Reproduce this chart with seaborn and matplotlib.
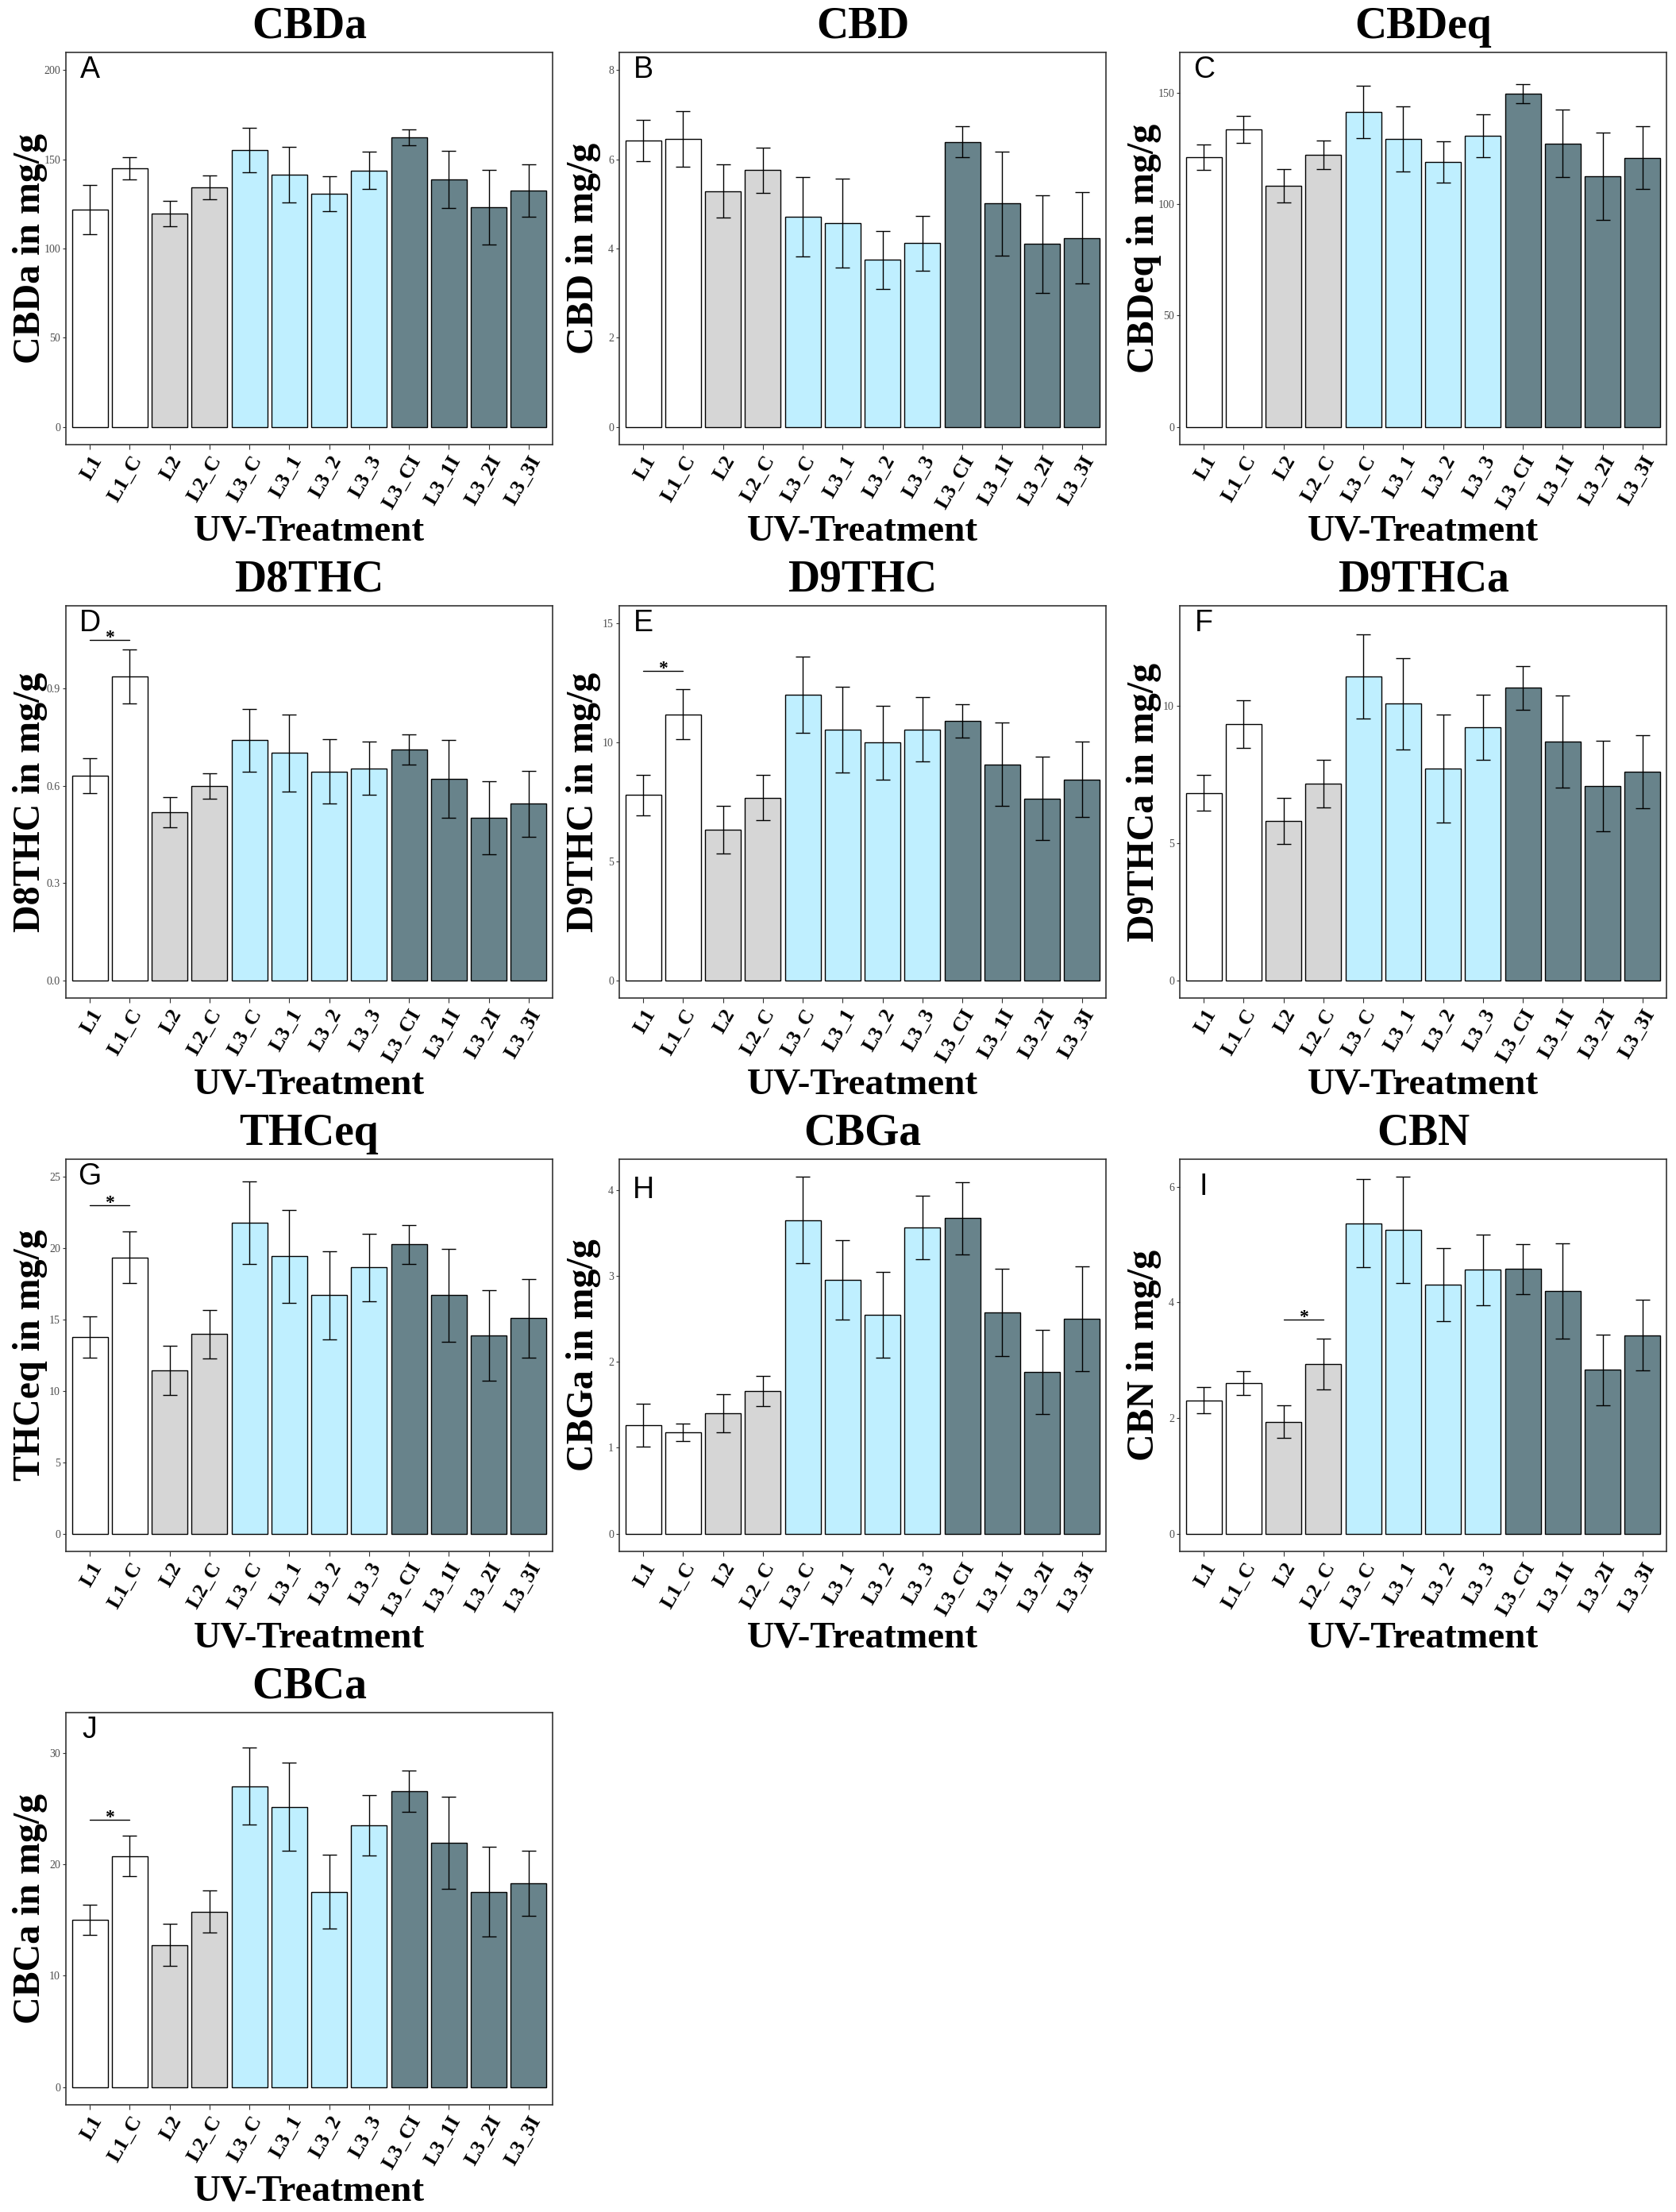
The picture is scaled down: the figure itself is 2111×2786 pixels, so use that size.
import numpy as np
import pandas as pd
import matplotlib
matplotlib.use('Agg')
import matplotlib.pyplot as plt
import seaborn as sns
from matplotlib.ticker import MultipleLocator, FormatStrFormatter

treatments = ['L1', 'L1_C', 'L2', 'L2_C', 'L3_C', 'L3_1', 'L3_2', 'L3_3',
              'L3_CI', 'L3_1I', 'L3_2I', 'L3_3I']
groups = ['L1', 'L1', 'L2', 'L2', 'L3', 'L3', 'L3', 'L3', 'L3I', 'L3I', 'L3I', 'L3I']
group_colors = {'L1': '#FFFFFF', 'L2': '#D6D6D6', 'L3': '#BFEFFF', 'L3I': '#68838B'}

names = ['CBDa', 'CBD', 'CBDeq', 'D8THC', 'D9THC', 'D9THCa', 'THCeq', 'CBGa', 'CBN', 'CBCa']
letters = ['A', 'B', 'C', 'D', 'E', 'F', 'G', 'H', 'I', 'J']
letter_y = [200, 8, 160, 1.1, 15, 13, 25, 4, 6, 32]
ytick_step = [50, 2, 50, 0.3, 5, 5, 5, 1, 2, 10]

cbda_mean = [121.8, 145.0, 119.6, 134.3, 155.2, 141.5, 130.8, 143.7, 162.3, 138.7, 123.2, 132.5]
cbda_err = [13.8, 6.4, 7.0, 6.6, 12.4, 15.6, 9.8, 10.5, 4.5, 16.0, 21.0, 14.7]
cbd_mean = [6.42, 6.46, 5.29, 5.76, 4.71, 4.57, 3.75, 4.12, 6.39, 5.01, 4.10, 4.24]
cbd_err = [0.46, 0.62, 0.59, 0.51, 0.89, 1.00, 0.65, 0.61, 0.35, 1.17, 1.09, 1.02]
cbdeq_mean = [121.0, 133.4, 108.1, 122.1, 141.2, 129.0, 118.8, 130.7, 149.4, 127.2, 112.4, 120.7]
cbdeq_err = [5.7, 6.0, 7.6, 6.3, 11.7, 14.6, 9.2, 9.6, 4.2, 15.1, 19.7, 14.0]
d8thc_mean = [0.630, 0.937, 0.518, 0.599, 0.740, 0.701, 0.644, 0.654, 0.711, 0.622, 0.501, 0.544]
d8thc_err = [0.054, 0.084, 0.047, 0.040, 0.096, 0.118, 0.100, 0.083, 0.046, 0.120, 0.113, 0.101]
d9thc_mean = [7.79, 11.19, 6.32, 7.68, 12.02, 10.55, 9.99, 10.55, 10.92, 9.08, 7.65, 8.45]
d9thc_err = [0.86, 1.04, 1.00, 0.95, 1.60, 1.80, 1.55, 1.35, 0.70, 1.76, 1.75, 1.60]
d9thca_mean = [6.83, 9.33, 5.81, 7.17, 11.08, 10.08, 7.71, 9.22, 10.66, 8.69, 7.08, 7.60]
d9thca_err = [0.65, 0.87, 0.84, 0.86, 1.53, 1.66, 1.97, 1.20, 0.80, 1.68, 1.64, 1.32]
thceq_mean = [13.78, 19.37, 11.44, 14.00, 21.78, 19.45, 16.72, 18.66, 20.27, 16.72, 13.90, 15.09]
thceq_err = [1.43, 1.80, 1.72, 1.70, 2.90, 3.26, 3.08, 2.35, 1.38, 3.25, 3.18, 2.74]
cbga_mean = [1.263, 1.181, 1.403, 1.663, 3.650, 2.951, 2.547, 3.560, 3.671, 2.576, 1.885, 2.502]
cbga_err = [0.25, 0.10, 0.22, 0.175, 0.50, 0.46, 0.50, 0.37, 0.42, 0.51, 0.49, 0.61]
cbn_mean = [2.306, 2.606, 1.933, 2.936, 5.370, 5.248, 4.306, 4.563, 4.575, 4.196, 2.832, 3.431]
cbn_err = [0.23, 0.21, 0.28, 0.44, 0.76, 0.92, 0.63, 0.61, 0.43, 0.82, 0.61, 0.61]
cbca_mean = [15.02, 20.72, 12.74, 15.73, 26.98, 25.14, 17.51, 23.49, 26.54, 21.93, 17.51, 18.29]
cbca_err = [1.34, 1.80, 1.90, 1.90, 3.46, 3.97, 3.30, 2.71, 1.88, 4.15, 4.02, 2.90]

all_means = [cbda_mean, cbd_mean, cbdeq_mean, d8thc_mean, d9thc_mean,
             d9thca_mean, thceq_mean, cbga_mean, cbn_mean, cbca_mean]
all_errs = [cbda_err, cbd_err, cbdeq_err, d8thc_err, d9thc_err,
            d9thca_err, thceq_err, cbga_err, cbn_err, cbca_err]

# significance brackets
sig_panels = ['D8THC', 'D9THC', 'THCeq', 'CBN', 'CBCa']
sig_left = [0, 0, 0, 2, 0]
sig_y = [1.05, 13.0, 23.0, 3.7, 24.0]

sns.set_theme(style='white')
plt.rcParams['font.family'] = ['Liberation Serif', 'DejaVu Serif']
plt.rcParams['text.color'] = 'black'
plt.rcParams['axes.labelcolor'] = 'black'
plt.rcParams['xtick.color'] = 'black'

W, H = 2111, 2786
fig = plt.figure(figsize=(W / 100, H / 100), dpi=100)
fig.patch.set_facecolor('white')

col_left = [83, 780, 1486]
ax_w, ax_h = 613, 494
row_pitch = 697
top0 = 66

for k, name in enumerate(names):
    r, c = divmod(k, 3)
    ax = fig.add_axes([col_left[c] / W, 1 - (top0 + r * row_pitch + ax_h) / H, ax_w / W, ax_h / H])
    mean = all_means[k]
    err = all_errs[k]
    df = pd.DataFrame({'treatment': treatments, 'value': mean, 'group': groups})
    sns.barplot(data=df, x='treatment', y='value', hue='group', order=treatments,
                palette=group_colors, saturation=1, dodge=False, width=0.9,
                edgecolor='black', linewidth=1.0, errorbar=None, legend=False, ax=ax)
    ax.errorbar(np.arange(len(treatments)), mean, yerr=err, fmt='none', ecolor='black',
                elinewidth=1.0, capsize=6.5, capthick=1.0)

    top = max(letter_y[k], max(m + e for m, e in zip(mean, err)))
    ax.set_ylim(-0.05 * top, 1.05 * top)
    ax.set_xlim(-0.6, len(treatments) - 0.4)

    ax.yaxis.set_major_locator(MultipleLocator(ytick_step[k]))
    if ytick_step[k] < 1:
        ax.yaxis.set_major_formatter(FormatStrFormatter('%.1f'))
    ax.tick_params(axis='y', left=True, length=3, width=0.8, color='#333333',
                   labelcolor='#4D4D4D', labelsize=10, pad=2)
    ax.tick_params(axis='x', bottom=True, length=4, width=0.8, color='#333333',
                   labelcolor='black', pad=3)
    ax.set_xticks(range(len(treatments)))
    ax.set_xticklabels(treatments, rotation=60, ha='right', va='top',
                       rotation_mode='anchor', fontsize=19, fontweight='bold')

    for sp in ax.spines.values():
        sp.set_visible(True)
        sp.set_color('#333333')
        sp.set_linewidth(1.2)

    ax.set_title(name, fontsize=40, fontweight='bold', pad=13, color='black')
    ax.set_ylabel(f'{name} in mg/g', fontsize=34.5, fontweight='bold')
    ax.yaxis.set_label_coords(-0.0375, 0.5)
    ax.set_xlabel('UV-Treatment', fontsize=34, fontweight='bold', va='baseline')
    ax.xaxis.set_label_coords(0.5, -0.243)

    ax.text(0, letter_y[k], letters[k], ha='center', va='center', fontsize=27,
            family='Liberation Sans', color='black')

    if name in sig_panels:
        s = sig_panels.index(name)
        i = sig_left[s]
        ax.plot([i, i + 1], [sig_y[s], sig_y[s]], color='black', lw=1.0)
        ax.annotate('*', (i + 0.5, sig_y[s]), xytext=(0, -2), textcoords='offset points',
                    ha='center', va='baseline', fontsize=17, fontweight='bold')

fig.savefig('out.png', dpi=100, facecolor='white')
